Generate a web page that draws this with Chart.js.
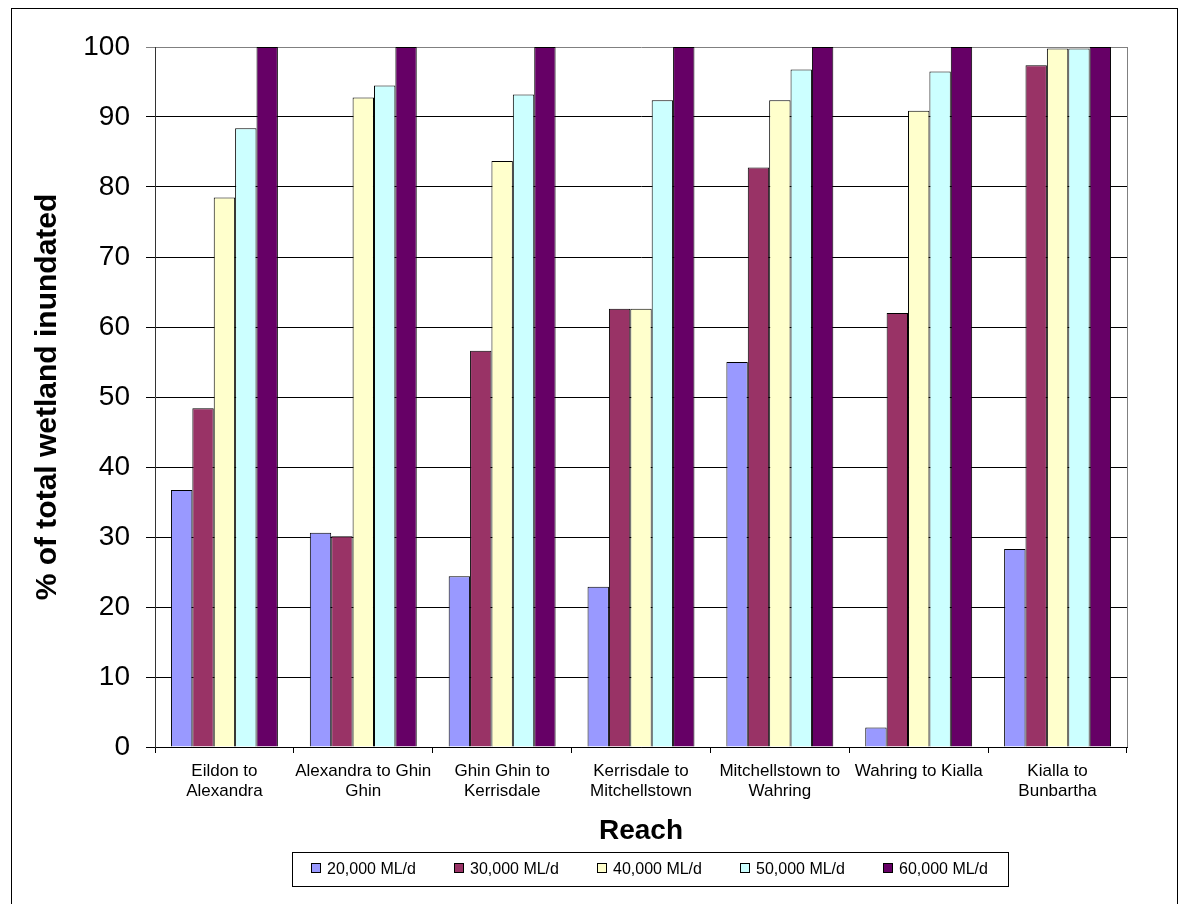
<!DOCTYPE html>
<html>
<head>
<meta charset="utf-8">
<title>Wetland inundation by reach</title>
<script src="https://cdn.jsdelivr.net/npm/chart.js@4/dist/chart.umd.min.js"></script>
<style>
  html, body { margin: 0; padding: 0; background: #fff; }
  canvas { display: block; }
</style>
</head>
<body>
<canvas id="wetlandChart" width="1189" height="904"></canvas>
<script>
// Kategori (reach) dan nilai tiap debit
const reaches = [
  ['Eildon to', 'Alexandra'],
  ['Alexandra to Ghin', 'Ghin'],
  ['Ghin Ghin to', 'Kerrisdale'],
  ['Kerrisdale to', 'Mitchellstown'],
  ['Mitchellstown to', 'Wahring'],
  'Wahring to Kialla',
  ['Kialla to', 'Bunbartha']
];
const seriesNames = ['20,000 ML/d', '30,000 ML/d', '40,000 ML/d', '50,000 ML/d', '60,000 ML/d'];
const flow20 = [36.7, 30.6, 24.4, 22.9, 55.0, 2.8, 28.3];
const flow30 = [48.4, 30.1, 56.6, 62.6, 82.8, 62.0, 97.4];
const flow40 = [78.5, 92.8, 83.7, 62.6, 92.4, 90.9, 99.8];
const flow50 = [88.4, 94.5, 93.2, 92.4, 96.8, 96.5, 99.8];
const flow60 = [100, 100, 100, 100, 100, 100, 100];
const yTicks = [0, 10, 20, 30, 40, 50, 60, 70, 80, 90, 100];

const seriesColors = ['#9999FF', '#993366', '#FFFFCC', '#CCFFFF', '#660066'];
const FONT = "'Liberation Sans', Arial, sans-serif";

// Bingkai luar, garis tepi plot, dan legenda bergaya Excel
const excelFrame = {
  id: 'excelFrame',
  afterDraw(chart) {
    const ctx = chart.ctx;
    const area = chart.chartArea;
    ctx.save();

    // garis tepi kanan plot (abu-abu)
    ctx.strokeStyle = '#808080';
    ctx.lineWidth = 1;
    ctx.beginPath();
    ctx.moveTo(Math.round(area.right) + 0.5, area.top);
    ctx.lineTo(Math.round(area.right) + 0.5, area.bottom);
    ctx.stroke();

    // bingkai luar chart
    ctx.strokeStyle = '#000';
    ctx.strokeRect(11.5, 8.5, 1166, 900);

    // legenda
    const box = { left: 292, top: 852, right: 1008, bottom: 886 };
    ctx.strokeStyle = '#000';
    ctx.strokeRect(box.left + 0.5, box.top + 0.5, box.right - box.left, box.bottom - box.top);
    ctx.font = '16px ' + FONT;
    ctx.textBaseline = 'middle';
    ctx.textAlign = 'left';
    const midY = (box.top + box.bottom) / 2;
    chart.data.datasets.forEach((ds, i) => {
      const x = 311 + i * 143;
      ctx.fillStyle = ds.backgroundColor;
      ctx.fillRect(x + 0.5, midY - 5.5, 9, 9);
      ctx.strokeStyle = '#000';
      ctx.strokeRect(x + 0.5, midY - 5.5, 9, 9);
      ctx.fillStyle = '#000';
      ctx.fillText(ds.label, x + 16, midY + 1);
    });
    ctx.restore();
  }
};

const seriesData = [flow20, flow30, flow40, flow50, flow60];

new Chart(document.getElementById('wetlandChart').getContext('2d'), {
  type: 'bar',
  data: {
    labels: reaches,
    datasets: seriesNames.map((name, i) => ({
      label: name,
      data: seriesData[i],
      backgroundColor: seriesColors[i],
      borderColor: '#000',
      borderWidth: 1,
      categoryPercentage: 0.77,
      barPercentage: 1.0
    }))
  },
  options: {
    responsive: false,
    animation: false,
    layout: {
      padding: { top: 47, right: 62, bottom: 56, left: 0 }
    },
    plugins: {
      legend: { display: false },
      tooltip: { enabled: false }
    },
    scales: {
      x: {
        grid: {
          display: true,
          offset: true,
          drawOnChartArea: false,
          drawTicks: true,
          tickLength: 6,
          color: '#000'
        },
        border: { color: '#000', width: 1 },
        ticks: {
          autoSkip: false,
          maxRotation: 0,
          minRotation: 0,
          padding: 8,
          color: '#000',
          font: { family: FONT, size: 17, lineHeight: 1.2 }
        },
        title: {
          display: true,
          text: 'Reach',
          color: '#000',
          font: { family: FONT, size: 28, weight: 'bold', lineHeight: 1.2 },
          padding: { top: 0, bottom: 0 }
        },
        afterFit(scale) {
          scale.height = 101;
        }
      },
      y: {
        min: 0,
        max: 100,
        afterBuildTicks(scale) {
          scale.ticks = yTicks.map(v => ({ value: v }));
        },
        grid: {
          color: ctx => (ctx.tick && ctx.tick.value === 100 ? '#808080' : '#000'),
          lineWidth: 1,
          drawTicks: true,
          tickLength: 9
        },
        border: { color: '#333', width: 1 },
        ticks: {
          padding: 16,
          color: '#000',
          font: { family: FONT, size: 28 }
        },
        title: {
          display: true,
          text: '% of total wetland inundated',
          color: '#000',
          font: { family: FONT, size: 30, weight: 'bold', lineHeight: 1.2 },
          padding: { top: 30, bottom: 0 }
        },
        afterFit(scale) {
          scale.width = 155;
        }
      }
    }
  },
  plugins: [excelFrame]
});
</script>
</body>
</html>
